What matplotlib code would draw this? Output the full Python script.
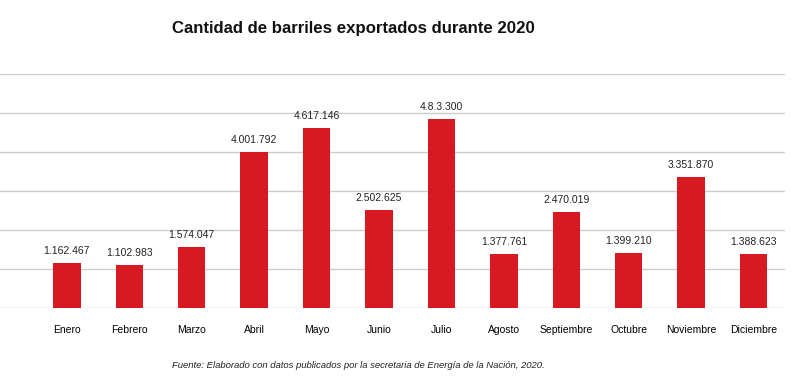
import matplotlib.pyplot as plt

# Datos (barriles exportados por mes, 2020)
meses = ["Enero", "Febrero", "Marzo", "Abril", "Mayo", "Junio",
         "Julio", "Agosto", "Septiembre", "Octubre", "Noviembre", "Diciembre"]
barriles = [1162467, 1102983, 1574047, 4001792, 4617146, 2502625,
            4833300, 1377761, 2470019, 1399210, 3351870, 1388623]
etiquetas = ["1.162.467", "1.102.983", "1.574.047", "4.001.792", "4.617.146", "2.502.625",
             "4.8.3.300", "1.377.761", "2.470.019", "1.399.210", "3.351.870", "1.388.623"]

plt.rcParams["font.family"] = ["Liberation Sans", "DejaVu Sans"]

fig = plt.figure(figsize=(8, 3.77), dpi=100)
ax = fig.add_axes([0, 0.183, 0.981, 0.621])

x = range(len(meses))
ax.bar(x, barriles, width=0.44, color="#d71a21", zorder=3)

for i, (v, t) in enumerate(zip(barriles, etiquetas)):
    ax.text(i, v + 180000, t, ha="center", va="bottom", fontsize=7.5, color="#222222")

ax.set_xlim(-1.07, 11.5)
ax.set_ylim(0, 6e6)
ax.set_yticks([i * 1e6 for i in range(7)])
ax.set_yticklabels([])
ax.grid(axis="y", color="#cccccc", linewidth=1, zorder=0)
ax.tick_params(length=0)
ax.set_xticks(list(x))
ax.set_xticklabels(meses, fontsize=7.5)
ax.tick_params(axis="x", pad=12)
for s in ax.spines.values():
    s.set_visible(False)

fig.text(0.215, 0.925, "Cantidad de barriles exportados durante 2020",
         fontsize=12.1, fontweight="bold", ha="left", va="center", color="#111111")
fig.text(0.215, 0.03, "Fuente: Elaborado con datos publicados por la secretaria de Energía de la Nación, 2020.",
         fontsize=6.8, style="italic", ha="left", va="center", color="#222222")

fig.savefig("out.png", dpi=100)
